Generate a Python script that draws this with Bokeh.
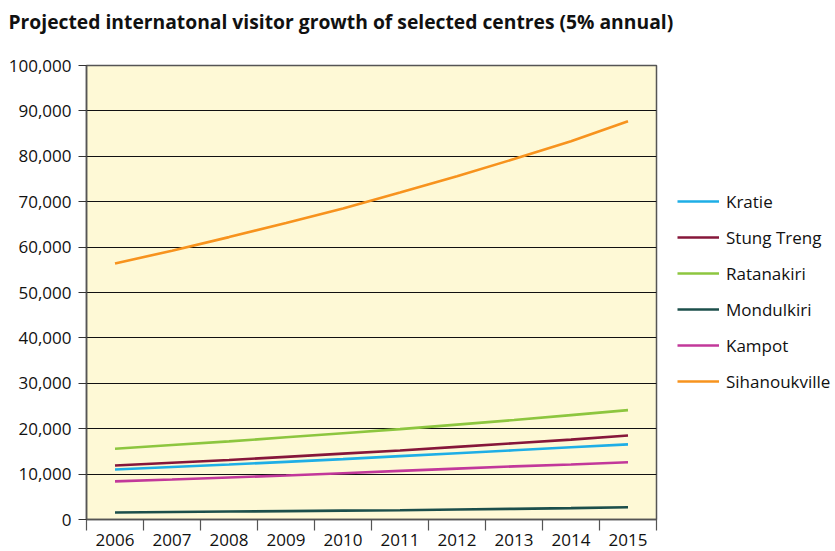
from bokeh.plotting import figure
from bokeh.layouts import row
from bokeh.models import (Range1d, FixedTicker, NumeralTickFormatter, Legend, LegendItem,
                          ColumnDataSource, Title)
from bokeh.embed import file_html
from bokeh.resources import INLINE

years = ["2006", "2007", "2008", "2009", "2010", "2011", "2012", "2013", "2014", "2015"]
kratie = [11000, 11550, 12100, 12700, 13300, 13950, 14600, 15250, 15900, 16550]
stung_treng = [11900, 12500, 13100, 13800, 14500, 15200, 16000, 16800, 17600, 18500]
ratanakiri = [15600, 16400, 17200, 18100, 19000, 19900, 20900, 21900, 23000, 24100]
mondulkiri = [1550, 1650, 1750, 1850, 1950, 2050, 2200, 2350, 2500, 2700]
kampot = [8400, 8800, 9250, 9700, 10200, 10700, 11200, 11700, 12100, 12600]
sihanoukville = [56400, 59200, 62200, 65300, 68500, 72000, 75600, 79400, 83300, 87700]

series = [
    ("Kratie", kratie, "#1eaee6"),
    ("Stung Treng", stung_treng, "#86173a"),
    ("Ratanakiri", ratanakiri, "#8dc63f"),
    ("Mondulkiri", mondulkiri, "#1c4f4b"),
    ("Kampot", kampot, "#c2389a"),
    ("Sihanoukville", sihanoukville, "#f7931e"),
]

FONT = "Open Sans"

p = figure(width=676, height=551, output_backend="svg", toolbar_location=None, title=None,
           x_range=Range1d(0, len(years)), y_range=Range1d(0, 100000),
           min_border_left=86, min_border_right=20, min_border_top=65, min_border_bottom=32)

p.background_fill_color = "#fef9d6"
p.border_fill_color = "white"
p.outline_line_color = "#555555"
p.outline_line_width = 1.5

# spacer closest to the frame, then the real title further out
spacer = Title(text=" ", text_font_size="1px", standoff=28)
p.add_layout(spacer, "above")
title = Title(text="Projected internatonal visitor growth of selected centres (5% annual)",
              text_font=FONT, text_font_style="bold", text_font_size="19.3px",
              text_color="#111111", align="left", offset=-78, standoff=0)
p.add_layout(title, "above")

xs = [i + 0.5 for i in range(len(years))]
for name, vals, color in series:
    src = ColumnDataSource(dict(x=xs, y=vals))
    p.line("x", "y", source=src, line_color=color, line_width=2.6)

# x axis: labels at category centres, boundary ticks as minor ticks
p.xaxis.ticker = FixedTicker(ticks=xs, minor_ticks=list(range(len(years) + 1)))
p.xaxis.major_label_overrides = {x: y for x, y in zip(xs, years)}
p.xaxis.major_tick_out = 0
p.xaxis.major_tick_in = 0
p.xaxis.minor_tick_out = 11
p.xaxis.minor_tick_in = 0
p.xaxis.minor_tick_line_color = "#555555"
p.xaxis.minor_tick_line_width = 1.2
p.xaxis.major_label_standoff = 3
p.xaxis.major_label_text_font = FONT
p.xaxis.major_label_text_font_size = "17px"
p.xaxis.major_label_text_color = "#111111"
p.xaxis.axis_line_color = "#555555"
p.xaxis.axis_line_width = 1.5

p.yaxis.ticker = FixedTicker(ticks=list(range(0, 100001, 10000)))
p.yaxis.formatter = NumeralTickFormatter(format="0,0")
p.yaxis.major_tick_out = 8
p.yaxis.major_tick_in = 0
p.yaxis.minor_tick_line_color = None
p.yaxis.major_tick_line_color = "#333333"
p.yaxis.major_label_standoff = 7
p.yaxis.major_label_text_font = FONT
p.yaxis.major_label_text_font_size = "17px"
p.yaxis.major_label_text_color = "#111111"
p.yaxis.axis_line_color = "#555555"
p.yaxis.axis_line_width = 1.5

p.xgrid.grid_line_color = None
p.ygrid.grid_line_color = "#111111"
p.ygrid.grid_line_width = 1.2

# legend panel: a second figure holding the same series (out of its view) and the legend
pl = figure(width=159, height=551, output_backend="svg", toolbar_location=None,
            x_range=Range1d(0, 1), y_range=Range1d(-20, -10),
            min_border=0, outline_line_color=None)
pl.axis.visible = False
pl.grid.visible = False
pl.background_fill_color = "white"
pl.border_fill_color = "white"
items = []
for name, vals, color in series:
    src = ColumnDataSource(dict(x=xs, y=vals))
    r = pl.line("x", "y", source=src, line_color=color, line_width=2.6)
    items.append(LegendItem(label=name, renderers=[r]))

legend = Legend(items=items, location=(1, 126), orientation="vertical",
                glyph_width=42, glyph_height=24, label_height=24, spacing=12,
                label_standoff=7, padding=0, margin=0,
                border_line_color=None, background_fill_alpha=0,
                label_text_font=FONT, label_text_font_size="17px",
                label_text_color="#111111")
pl.add_layout(legend, "center")

layout = row(p, pl, spacing=0)
open("out.html", "w").write(file_html(layout, INLINE))
